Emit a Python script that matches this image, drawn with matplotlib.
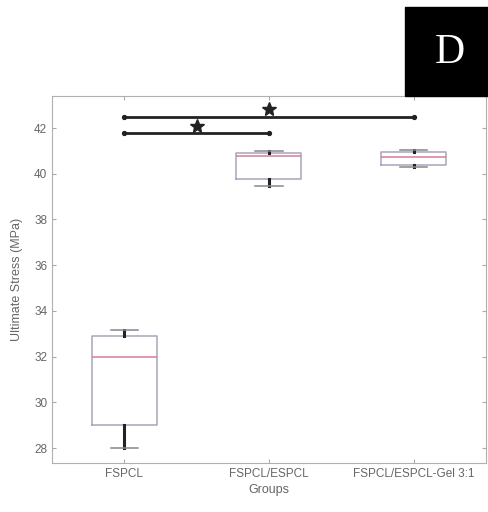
import matplotlib
matplotlib.use("Agg")
import matplotlib.pyplot as plt
from matplotlib.patches import Rectangle

# Ultimate stress summary per group (MPa)
groups = ["FSPCL", "FSPCL/ESPCL", "FSPCL/ESPCL-Gel 3:1"]
whisker_low = [28.0, 39.45, 40.3]
q1 = [29.0, 39.78, 40.38]
medians = [32.0, 40.77, 40.73]
q3 = [32.9, 40.9, 40.95]
whisker_high = [33.15, 41.0, 41.03]

# significance brackets: (from group, to group, height)
brackets = [(1, 3, 42.47), (1, 2, 41.78)]
star_heights = [42.85, 42.1]

plt.rcParams["font.family"] = ["Liberation Sans", "DejaVu Sans"]
text_grey = "#666666"

fig = plt.figure(figsize=(4.88, 5.12), dpi=100)
ax = fig.add_axes([0.1066, 0.0957, 0.889, 0.7168])

stats = []
for i, g in enumerate(groups):
    stats.append({"label": g, "whislo": whisker_low[i], "q1": q1[i], "med": medians[i],
                  "q3": q3[i], "whishi": whisker_high[i], "fliers": []})

ax.bxp(stats, positions=[1, 2, 3], widths=0.45, showfliers=False,
       boxprops=dict(color="#aaa4bc", linewidth=1.1),
       medianprops=dict(color="#d77a98", linewidth=1.1),
       whiskerprops=dict(color="#222222", linewidth=2.2),
       capprops=dict(color="#888888", linewidth=1.1),
       capwidths=0.19)

for (a, b, h), sh in zip(brackets, star_heights):
    ax.plot([a, b], [h, h], color="#222222", linewidth=2.0, solid_capstyle="round")
    ax.plot([a, b], [h, h], "o", color="#222222", markersize=2.8)
    ax.plot((a + b) / 2, sh, marker="*", color="#222222", markersize=10, linestyle="none")

ax.set_xlim(0.5, 3.5)
ax.set_ylim(27.35, 43.4)
ax.set_yticks([28, 30, 32, 34, 36, 38, 40, 42])
ax.set_xticks([1, 2, 3])
ax.set_xticklabels(groups)
ax.tick_params(direction="in", length=3, colors="#aaaaaa", labelcolor=text_grey,
               labelsize=8.5, top=True, right=True)
for s in ax.spines.values():
    s.set_color("#b0b0b0")
ax.set_xlabel("Groups", color=text_grey, fontsize=9, labelpad=3)
ax.set_ylabel("Ultimate Stress (MPa)", color=text_grey, fontsize=9, labelpad=8)

# panel letter
fig.patches.append(Rectangle((405 / 488, 1 - 96 / 512), 83 / 488, 89 / 512,
                             transform=fig.transFigure, color="black", zorder=5))
fig.text(450 / 488, 1 - 53 / 512, "D", color="white", fontsize=30,
         family="Liberation Serif", ha="center", va="center", zorder=6)

fig.savefig("out.png", dpi=100)
